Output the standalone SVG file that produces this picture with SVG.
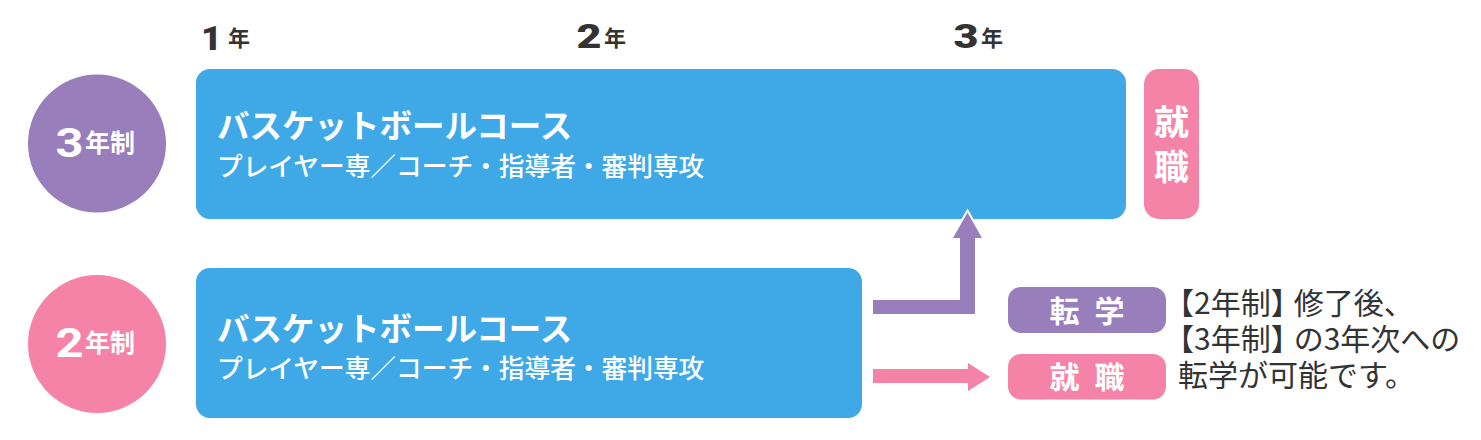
<svg xmlns="http://www.w3.org/2000/svg" width="1481" height="440" viewBox="0 0 1481 440">
  <style>
    .jp { font-family: "Noto Sans CJK JP", "Noto Sans", sans-serif; }
    .num { font-family: "Roboto", "Liberation Sans", sans-serif; font-weight: 900; }
    .yr { fill: #333333; }
    .wb { fill: #ffffff; font-weight: 700; }
    .title { font-size: 32.5px; fill: #ffffff; font-weight: 700; }
    .sub { font-size: 25.7px; fill: #ffffff; font-weight: 500; }
    .course { fill: #3ea9e6; }
    .purple { fill: #987ebb; }
    .pink { fill: #f583a7; }
    .note { font-size: 30px; fill: #333333; }
  </style>

  <!-- year labels -->
  <g id="year1">
    <text class="num yr" x="201" y="50" font-size="34" textLength="21" lengthAdjust="spacingAndGlyphs">1</text>
    <text class="jp yr" x="228" y="45.5" font-size="22" font-weight="700">年</text>
  </g>
  <g id="year2">
    <text class="num yr" x="576.5" y="48" font-size="33" textLength="25" lengthAdjust="spacingAndGlyphs">2</text>
    <text class="jp yr" x="604" y="45.5" font-size="22" font-weight="700">年</text>
  </g>
  <g id="year3">
    <text class="num yr" x="953.5" y="48" font-size="33" textLength="25" lengthAdjust="spacingAndGlyphs">3</text>
    <text class="jp yr" x="981" y="45.5" font-size="22" font-weight="700">年</text>
  </g>

  <!-- 3-year system -->
  <g id="circle3">
    <circle class="purple" cx="97" cy="143.5" r="69"/>
    <text class="num wb" x="55.5" y="157" font-size="40" textLength="28" lengthAdjust="spacingAndGlyphs">3</text>
    <text class="jp wb" x="85" y="152" font-size="25">年制</text>
  </g>
  <g id="course3">
    <rect class="course" x="196" y="69" width="930" height="150" rx="14"/>
    <text class="jp title" x="217" y="138">バスケットボールコース</text>
    <text class="jp sub" x="217" y="175.5">プレイヤー専／コーチ・指導者・審判専攻</text>
  </g>
  <g id="job3">
    <rect class="pink" x="1144" y="69" width="55" height="150" rx="15"/>
    <text class="jp wb" font-size="35" text-anchor="middle"><tspan x="1171.5" y="134.5">就</tspan><tspan x="1171.5" y="180">職</tspan></text>
  </g>

  <!-- 2-year system -->
  <g id="circle2">
    <circle class="pink" cx="97" cy="344" r="69"/>
    <text class="num wb" x="55.5" y="357" font-size="40" textLength="28" lengthAdjust="spacingAndGlyphs">2</text>
    <text class="jp wb" x="85" y="352" font-size="25">年制</text>
  </g>
  <g id="course2">
    <rect class="course" x="196" y="268" width="666" height="150" rx="14"/>
    <text class="jp title" x="217" y="341">バスケットボールコース</text>
    <text class="jp sub" x="217" y="378">プレイヤー専／コーチ・指導者・審判専攻</text>
  </g>

  <!-- connectors -->
  <g id="connectors">
    <path class="purple" d="M873,300 H960 V238 H953 L967.5,212.5 L982,238 H975 V314 H873 Z" stroke="#ffffff" stroke-width="4" stroke-linejoin="miter" paint-order="stroke"/>
    <path class="pink" d="M873,369 H968 V363 L990,377 L968,391 V383 H873 Z"/>
  </g>

  <!-- tags -->
  <g id="transfer">
    <rect class="purple" x="1008" y="287" width="158" height="46" rx="13"/>
    <text class="jp wb" x="1089" y="321.5" font-size="30" text-anchor="middle" letter-spacing="4">転 学</text>
  </g>
  <g id="job2">
    <rect class="pink" x="1008" y="354" width="158" height="45.5" rx="13"/>
    <text class="jp wb" x="1089" y="388" font-size="30" text-anchor="middle" letter-spacing="4">就 職</text>
  </g>

  <!-- note -->
  <g id="note">
    <text class="jp note"><tspan x="1164" y="314">【2年制】</tspan><tspan dx="-7">修了後、</tspan><tspan x="1164" y="350">【3年制】</tspan><tspan dx="-7">の3年次への</tspan><tspan x="1178" y="386">転学が可能です。</tspan></text>
  </g>
</svg>
